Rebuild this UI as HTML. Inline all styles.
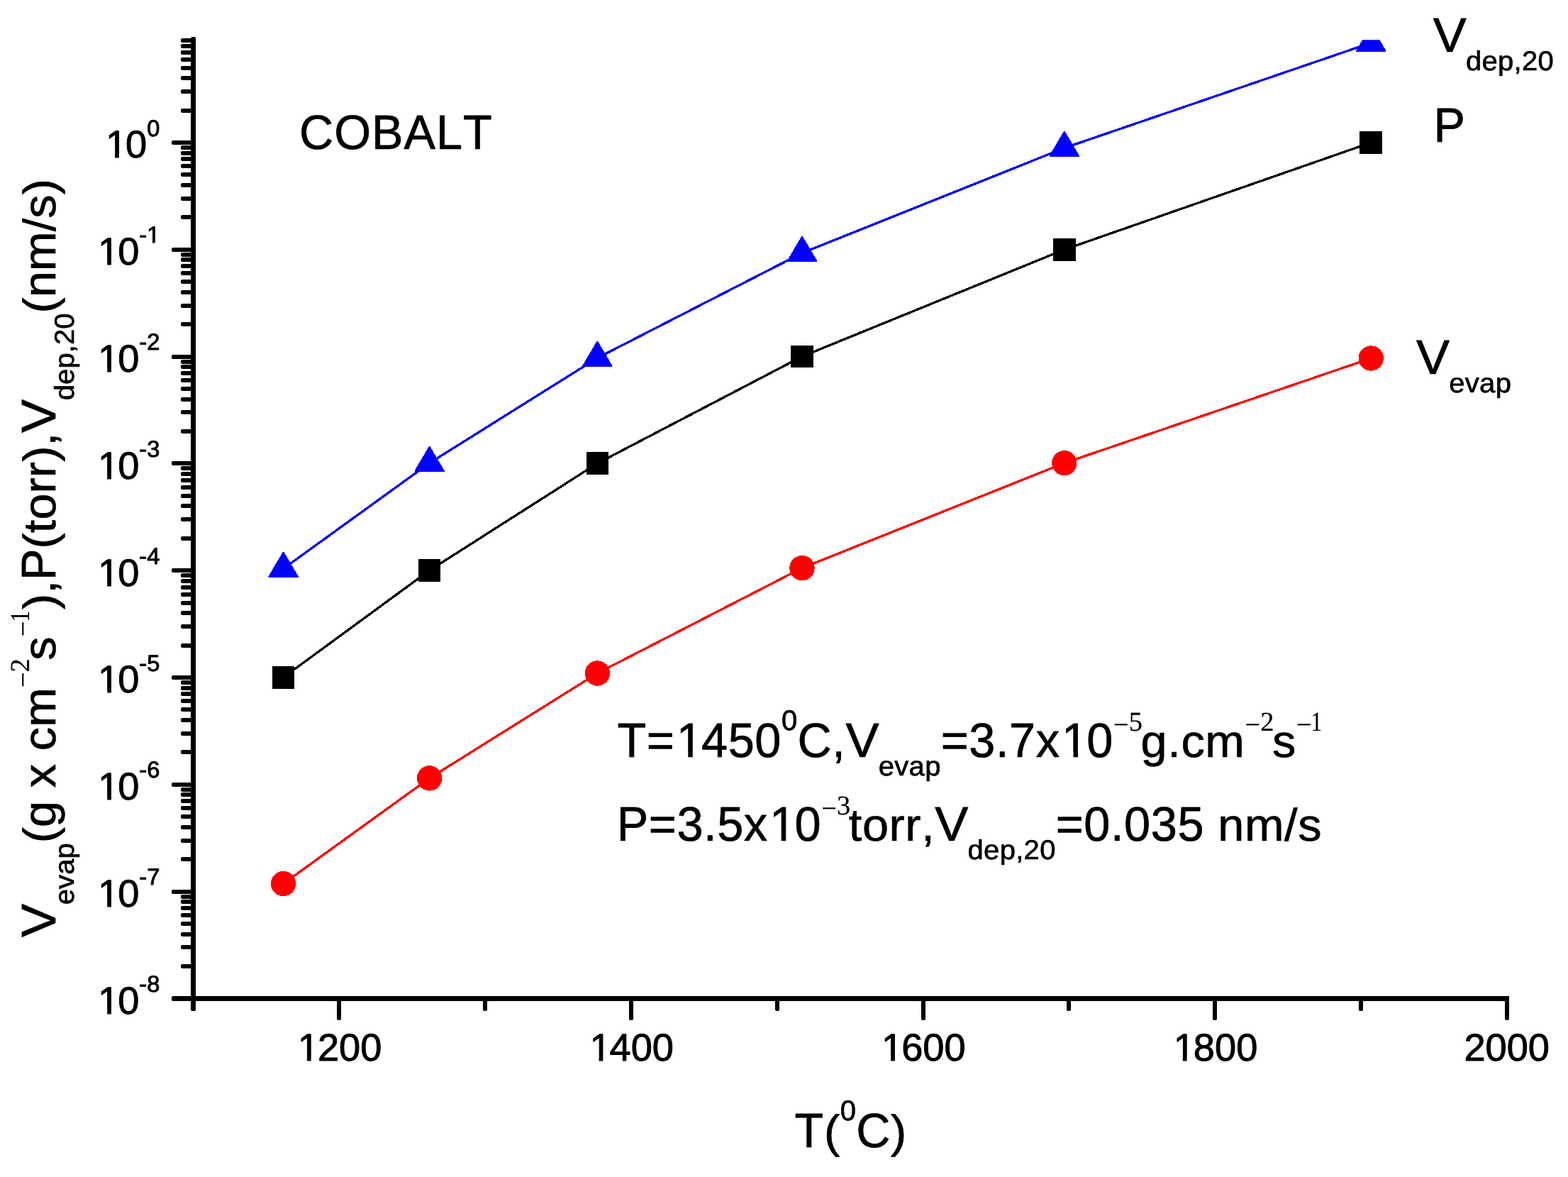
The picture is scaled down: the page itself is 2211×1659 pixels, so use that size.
<!DOCTYPE html>
<html lang="en"><head><meta charset="utf-8"><title>Cobalt: evaporation rate, vapour pressure and deposition rate vs temperature</title>
<style>
html,body{margin:0;padding:0;background:#fff;}
body{width:2211px;height:1659px;}
svg{display:block;}
text{font-family:"Liberation Sans",sans-serif;fill:#000;stroke:#000;stroke-width:0.70px;stroke-linejoin:round;font-kerning:none;font-variant-ligatures:none;text-rendering:geometricPrecision;white-space:pre;}
.tk text{stroke-width:0.95px;}
text.se{font-family:"Liberation Serif",serif;stroke-width:0.20px;}
</style></head><body>
<svg width="2211" height="1659" viewBox="0 0 2211 1659">
<rect x="0" y="0" width="2211" height="1659" fill="#fff"/>
<g id="axes" fill="#000" shape-rendering="crispEdges">
<rect x="269" y="53" width="7" height="1358"/>
<rect x="270" y="52" width="5" height="1"/>
<rect x="243" y="1404" width="1885" height="7"/>
<rect x="242" y="1405" width="1" height="5"/>
<rect x="243" y="198" width="29" height="6"/>
<rect x="242" y="199" width="1" height="4"/>
<rect x="256" y="153" width="16" height="6"/>
<rect x="255" y="154" width="1" height="4"/>
<rect x="256" y="126" width="16" height="6"/>
<rect x="255" y="127" width="1" height="4"/>
<rect x="256" y="107" width="16" height="6"/>
<rect x="255" y="108" width="1" height="4"/>
<rect x="256" y="93" width="16" height="6"/>
<rect x="255" y="94" width="1" height="4"/>
<rect x="256" y="81" width="16" height="6"/>
<rect x="255" y="82" width="1" height="4"/>
<rect x="256" y="71" width="16" height="6"/>
<rect x="255" y="72" width="1" height="4"/>
<rect x="256" y="62" width="16" height="6"/>
<rect x="255" y="63" width="1" height="4"/>
<rect x="256" y="54" width="16" height="6"/>
<rect x="255" y="55" width="1" height="4"/>
<rect x="243" y="349" width="29" height="6"/>
<rect x="242" y="350" width="1" height="4"/>
<rect x="256" y="303" width="16" height="6"/>
<rect x="255" y="304" width="1" height="4"/>
<rect x="256" y="277" width="16" height="6"/>
<rect x="255" y="278" width="1" height="4"/>
<rect x="256" y="258" width="16" height="6"/>
<rect x="255" y="259" width="1" height="4"/>
<rect x="256" y="243" width="16" height="6"/>
<rect x="255" y="244" width="1" height="4"/>
<rect x="256" y="231" width="16" height="6"/>
<rect x="255" y="232" width="1" height="4"/>
<rect x="256" y="221" width="16" height="6"/>
<rect x="255" y="222" width="1" height="4"/>
<rect x="256" y="213" width="16" height="6"/>
<rect x="255" y="214" width="1" height="4"/>
<rect x="256" y="205" width="16" height="6"/>
<rect x="255" y="206" width="1" height="4"/>
<rect x="243" y="500" width="29" height="6"/>
<rect x="242" y="501" width="1" height="4"/>
<rect x="256" y="454" width="16" height="6"/>
<rect x="255" y="455" width="1" height="4"/>
<rect x="256" y="428" width="16" height="6"/>
<rect x="255" y="429" width="1" height="4"/>
<rect x="256" y="409" width="16" height="6"/>
<rect x="255" y="410" width="1" height="4"/>
<rect x="256" y="394" width="16" height="6"/>
<rect x="255" y="395" width="1" height="4"/>
<rect x="256" y="382" width="16" height="6"/>
<rect x="255" y="383" width="1" height="4"/>
<rect x="256" y="372" width="16" height="6"/>
<rect x="255" y="373" width="1" height="4"/>
<rect x="256" y="363" width="16" height="6"/>
<rect x="255" y="364" width="1" height="4"/>
<rect x="256" y="356" width="16" height="6"/>
<rect x="255" y="357" width="1" height="4"/>
<rect x="243" y="650" width="29" height="6"/>
<rect x="242" y="651" width="1" height="4"/>
<rect x="256" y="605" width="16" height="6"/>
<rect x="255" y="606" width="1" height="4"/>
<rect x="256" y="578" width="16" height="6"/>
<rect x="255" y="579" width="1" height="4"/>
<rect x="256" y="560" width="16" height="6"/>
<rect x="255" y="561" width="1" height="4"/>
<rect x="256" y="545" width="16" height="6"/>
<rect x="255" y="546" width="1" height="4"/>
<rect x="256" y="533" width="16" height="6"/>
<rect x="255" y="534" width="1" height="4"/>
<rect x="256" y="523" width="16" height="6"/>
<rect x="255" y="524" width="1" height="4"/>
<rect x="256" y="514" width="16" height="6"/>
<rect x="255" y="515" width="1" height="4"/>
<rect x="256" y="507" width="16" height="6"/>
<rect x="255" y="508" width="1" height="4"/>
<rect x="243" y="801" width="29" height="6"/>
<rect x="242" y="802" width="1" height="4"/>
<rect x="256" y="756" width="16" height="6"/>
<rect x="255" y="757" width="1" height="4"/>
<rect x="256" y="729" width="16" height="6"/>
<rect x="255" y="730" width="1" height="4"/>
<rect x="256" y="710" width="16" height="6"/>
<rect x="255" y="711" width="1" height="4"/>
<rect x="256" y="696" width="16" height="6"/>
<rect x="255" y="697" width="1" height="4"/>
<rect x="256" y="684" width="16" height="6"/>
<rect x="255" y="685" width="1" height="4"/>
<rect x="256" y="674" width="16" height="6"/>
<rect x="255" y="675" width="1" height="4"/>
<rect x="256" y="665" width="16" height="6"/>
<rect x="255" y="666" width="1" height="4"/>
<rect x="256" y="657" width="16" height="6"/>
<rect x="255" y="658" width="1" height="4"/>
<rect x="243" y="952" width="29" height="6"/>
<rect x="242" y="953" width="1" height="4"/>
<rect x="256" y="907" width="16" height="6"/>
<rect x="255" y="908" width="1" height="4"/>
<rect x="256" y="880" width="16" height="6"/>
<rect x="255" y="881" width="1" height="4"/>
<rect x="256" y="861" width="16" height="6"/>
<rect x="255" y="862" width="1" height="4"/>
<rect x="256" y="847" width="16" height="6"/>
<rect x="255" y="848" width="1" height="4"/>
<rect x="256" y="835" width="16" height="6"/>
<rect x="255" y="836" width="1" height="4"/>
<rect x="256" y="825" width="16" height="6"/>
<rect x="255" y="826" width="1" height="4"/>
<rect x="256" y="816" width="16" height="6"/>
<rect x="255" y="817" width="1" height="4"/>
<rect x="256" y="808" width="16" height="6"/>
<rect x="255" y="809" width="1" height="4"/>
<rect x="243" y="1103" width="29" height="6"/>
<rect x="242" y="1104" width="1" height="4"/>
<rect x="256" y="1057" width="16" height="6"/>
<rect x="255" y="1058" width="1" height="4"/>
<rect x="256" y="1031" width="16" height="6"/>
<rect x="255" y="1032" width="1" height="4"/>
<rect x="256" y="1012" width="16" height="6"/>
<rect x="255" y="1013" width="1" height="4"/>
<rect x="256" y="997" width="16" height="6"/>
<rect x="255" y="998" width="1" height="4"/>
<rect x="256" y="985" width="16" height="6"/>
<rect x="255" y="986" width="1" height="4"/>
<rect x="256" y="975" width="16" height="6"/>
<rect x="255" y="976" width="1" height="4"/>
<rect x="256" y="967" width="16" height="6"/>
<rect x="255" y="968" width="1" height="4"/>
<rect x="256" y="959" width="16" height="6"/>
<rect x="255" y="960" width="1" height="4"/>
<rect x="243" y="1254" width="29" height="6"/>
<rect x="242" y="1255" width="1" height="4"/>
<rect x="256" y="1208" width="16" height="6"/>
<rect x="255" y="1209" width="1" height="4"/>
<rect x="256" y="1182" width="16" height="6"/>
<rect x="255" y="1183" width="1" height="4"/>
<rect x="256" y="1163" width="16" height="6"/>
<rect x="255" y="1164" width="1" height="4"/>
<rect x="256" y="1148" width="16" height="6"/>
<rect x="255" y="1149" width="1" height="4"/>
<rect x="256" y="1136" width="16" height="6"/>
<rect x="255" y="1137" width="1" height="4"/>
<rect x="256" y="1126" width="16" height="6"/>
<rect x="255" y="1127" width="1" height="4"/>
<rect x="256" y="1117" width="16" height="6"/>
<rect x="255" y="1118" width="1" height="4"/>
<rect x="256" y="1110" width="16" height="6"/>
<rect x="255" y="1111" width="1" height="4"/>
<rect x="256" y="1359" width="16" height="6"/>
<rect x="255" y="1360" width="1" height="4"/>
<rect x="256" y="1332" width="16" height="6"/>
<rect x="255" y="1333" width="1" height="4"/>
<rect x="256" y="1314" width="16" height="6"/>
<rect x="255" y="1315" width="1" height="4"/>
<rect x="256" y="1299" width="16" height="6"/>
<rect x="255" y="1300" width="1" height="4"/>
<rect x="256" y="1287" width="16" height="6"/>
<rect x="255" y="1288" width="1" height="4"/>
<rect x="256" y="1277" width="16" height="6"/>
<rect x="255" y="1278" width="1" height="4"/>
<rect x="256" y="1268" width="16" height="6"/>
<rect x="255" y="1269" width="1" height="4"/>
<rect x="256" y="1261" width="16" height="6"/>
<rect x="255" y="1262" width="1" height="4"/>
<rect x="269" y="1408" width="7" height="16"/>
<rect x="270" y="1424" width="5" height="1"/>
<rect x="475" y="1408" width="6" height="29"/>
<rect x="476" y="1437" width="4" height="1"/>
<rect x="681" y="1408" width="6" height="16"/>
<rect x="682" y="1424" width="4" height="1"/>
<rect x="887" y="1408" width="6" height="29"/>
<rect x="888" y="1437" width="4" height="1"/>
<rect x="1093" y="1408" width="6" height="16"/>
<rect x="1094" y="1424" width="4" height="1"/>
<rect x="1299" y="1408" width="6" height="29"/>
<rect x="1300" y="1437" width="4" height="1"/>
<rect x="1504" y="1408" width="6" height="16"/>
<rect x="1505" y="1424" width="4" height="1"/>
<rect x="1710" y="1408" width="6" height="29"/>
<rect x="1711" y="1437" width="4" height="1"/>
<rect x="1916" y="1408" width="6" height="16"/>
<rect x="1917" y="1424" width="4" height="1"/>
<rect x="2122" y="1408" width="6" height="29"/>
<rect x="2123" y="1437" width="4" height="1"/>
</g>
<defs><clipPath id="plot"><rect x="276" y="56.2" width="1900" height="1348"/></clipPath></defs>
<g id="series" clip-path="url(#plot)" shape-rendering="crispEdges">
<polyline points="399.6,954.8 605.6,804.0 842.3,653.2 1131.0,502.5 1500.8,351.8 1933.2,201.0" fill="none" stroke="#000" stroke-width="3.3"/>
<polyline points="399.6,1245.5 605.6,1096.9 842.3,949.0 1131.0,800.6 1500.8,652.7 1933.2,505.0" fill="none" stroke="#f00" stroke-width="3.3"/>
<polyline points="399.6,801.5 605.6,652.7 842.3,504.6 1131.0,356.6 1500.8,208.6 1933.2,60.4" fill="none" stroke="#00f" stroke-width="3.3"/>
<rect x="383.8" y="939.0" width="31.6" height="31.6" fill="#000"/>
<rect x="589.8" y="788.2" width="31.6" height="31.6" fill="#000"/>
<rect x="826.5" y="637.4" width="31.6" height="31.6" fill="#000"/>
<rect x="1115.2" y="486.7" width="31.6" height="31.6" fill="#000"/>
<rect x="1485.0" y="336.0" width="31.6" height="31.6" fill="#000"/>
<rect x="1917.4" y="185.2" width="31.6" height="31.6" fill="#000"/>
<circle cx="399.6" cy="1245.5" r="17.7" fill="#f00"/>
<circle cx="605.6" cy="1096.9" r="17.7" fill="#f00"/>
<circle cx="842.3" cy="949.0" r="17.7" fill="#f00"/>
<circle cx="1131.0" cy="800.6" r="17.7" fill="#f00"/>
<circle cx="1500.8" cy="652.7" r="17.7" fill="#f00"/>
<circle cx="1933.2" cy="505.0" r="17.7" fill="#f00"/>
<polygon points="379.4,812.8 419.8,812.8 399.6,778.6" fill="#00f" stroke="#00f" stroke-width="2" stroke-linejoin="round"/>
<polygon points="585.4,664.0 625.8,664.0 605.6,629.8" fill="#00f" stroke="#00f" stroke-width="2" stroke-linejoin="round"/>
<polygon points="822.1,515.9 862.5,515.9 842.3,481.7" fill="#00f" stroke="#00f" stroke-width="2" stroke-linejoin="round"/>
<polygon points="1110.8,367.9 1151.2,367.9 1131.0,333.7" fill="#00f" stroke="#00f" stroke-width="2" stroke-linejoin="round"/>
<polygon points="1480.6,219.9 1521.0,219.9 1500.8,185.7" fill="#00f" stroke="#00f" stroke-width="2" stroke-linejoin="round"/>
<polygon points="1913.0,71.7 1953.4,71.7 1933.2,37.5" fill="#00f" stroke="#00f" stroke-width="2" stroke-linejoin="round"/>
</g>
<g id="ytick-labels" class="tk">
<text transform="translate(146.88,222.30)" font-size="54.20"><tspan dx="2.00">1</tspan><tspan dx="-2.00">0</tspan></text>
<text transform="translate(207.17,191.60)" font-size="32.60">0</text>
<text transform="translate(136.03,373.10)" font-size="54.20"><tspan dx="2.00">1</tspan><tspan dx="-2.00">0</tspan></text>
<text transform="translate(196.31,342.40)" font-size="32.60">-<tspan dx="0.00">1</tspan></text>
<text transform="translate(136.03,523.90)" font-size="54.20"><tspan dx="2.00">1</tspan><tspan dx="-2.00">0</tspan></text>
<text transform="translate(196.31,493.20)" font-size="32.60">-2</text>
<text transform="translate(136.03,674.70)" font-size="54.20"><tspan dx="2.00">1</tspan><tspan dx="-2.00">0</tspan></text>
<text transform="translate(196.31,644.00)" font-size="32.60">-3</text>
<text transform="translate(136.03,825.50)" font-size="54.20"><tspan dx="2.00">1</tspan><tspan dx="-2.00">0</tspan></text>
<text transform="translate(196.31,794.80)" font-size="32.60">-4</text>
<text transform="translate(136.03,976.30)" font-size="54.20"><tspan dx="2.00">1</tspan><tspan dx="-2.00">0</tspan></text>
<text transform="translate(196.31,945.60)" font-size="32.60">-5</text>
<text transform="translate(136.03,1127.10)" font-size="54.20"><tspan dx="2.00">1</tspan><tspan dx="-2.00">0</tspan></text>
<text transform="translate(196.31,1096.40)" font-size="32.60">-6</text>
<text transform="translate(136.03,1277.90)" font-size="54.20"><tspan dx="2.00">1</tspan><tspan dx="-2.00">0</tspan></text>
<text transform="translate(196.31,1247.20)" font-size="32.60">-7</text>
<text transform="translate(136.03,1428.70)" font-size="54.20"><tspan dx="2.00">1</tspan><tspan dx="-2.00">0</tspan></text>
<text transform="translate(196.31,1398.00)" font-size="32.60">-8</text>
<g fill="#fff" stroke="none">
<rect x="151.00" y="217" width="11.04" height="7"/>
<rect x="167.77" y="217" width="10.23" height="7"/>
<rect x="140.00" y="367" width="11.18" height="8"/>
<rect x="156.92" y="367" width="10.08" height="8"/>
<rect x="208.00" y="338" width="6.89" height="6"/>
<rect x="218.72" y="338" width="7.28" height="6"/>
<rect x="140.00" y="518" width="11.18" height="7"/>
<rect x="156.92" y="518" width="10.08" height="7"/>
<rect x="140.00" y="669" width="11.18" height="7"/>
<rect x="156.92" y="669" width="10.08" height="7"/>
<rect x="140.00" y="820" width="11.18" height="7"/>
<rect x="156.92" y="820" width="10.08" height="7"/>
<rect x="140.00" y="971" width="11.18" height="7"/>
<rect x="156.92" y="971" width="10.08" height="7"/>
<rect x="140.00" y="1121" width="11.18" height="8"/>
<rect x="156.92" y="1121" width="10.08" height="8"/>
<rect x="140.00" y="1272" width="11.18" height="7"/>
<rect x="156.92" y="1272" width="10.08" height="7"/>
<rect x="140.00" y="1423" width="11.18" height="7"/>
<rect x="156.92" y="1423" width="10.08" height="7"/>
</g>
</g>
<g id="xtick-labels" class="tk">
<text transform="translate(417.74,1495.40)" font-size="54.20"><tspan dx="2.00">1</tspan><tspan dx="-2.00">200</tspan></text>
<text transform="translate(829.40,1495.40)" font-size="54.20"><tspan dx="2.00">1</tspan><tspan dx="-2.00">400</tspan></text>
<text transform="translate(1241.06,1495.40)" font-size="54.20"><tspan dx="2.00">1</tspan><tspan dx="-2.00">600</tspan></text>
<text transform="translate(1652.72,1495.40)" font-size="54.20"><tspan dx="2.00">1</tspan><tspan dx="-2.00">800</tspan></text>
<text transform="translate(2064.38,1495.40)" font-size="54.20">2000</text>
<g fill="#fff" stroke="none">
<rect x="422.00" y="1490" width="10.90" height="7"/>
<rect x="438.64" y="1490" width="10.36" height="7"/>
<rect x="834.00" y="1490" width="10.56" height="7"/>
<rect x="850.30" y="1490" width="10.70" height="7"/>
<rect x="1245.00" y="1490" width="11.22" height="7"/>
<rect x="1261.96" y="1490" width="11.04" height="7"/>
<rect x="1657.00" y="1490" width="10.88" height="7"/>
<rect x="1673.62" y="1490" width="10.38" height="7"/>
</g>
</g>
<g id="labels">
<text transform="translate(422.00,209.60) scale(1.000,1.025)" font-size="66.67" letter-spacing="1.00">COBALT</text>
<text transform="translate(2020.70,72.70) scale(1.060,1.025)" font-size="66.67" letter-spacing="0.60">V</text>
<text transform="translate(2066.97,98.90) scale(1.000,0.965)" font-size="40.00" letter-spacing="0.30">dep,20</text>
<text transform="translate(2021.50,199.90) scale(1.000,1.025)" font-size="66.67">P</text>
<text transform="translate(1997.00,527.20) scale(1.060,1.025)" font-size="66.67" letter-spacing="0.60">V</text>
<text transform="translate(2043.27,553.40) scale(1.000,0.965)" font-size="40.00" letter-spacing="0.30">evap</text>
</g>
<g id="annotation">
<text transform="translate(870.50,1067.00) scale(1.000,1.025)" font-size="66.67" letter-spacing="0.60">T=<tspan dx="2.46">1</tspan><tspan dx="-2.46">450</tspan></text>
<text transform="translate(1102.07,1028.80)" font-size="40.00" letter-spacing="0.30">0</text>
<text transform="translate(1124.62,1067.00) scale(1.000,1.025)" font-size="66.67" letter-spacing="0.60">C,</text>
<text transform="translate(1192.49,1067.00) scale(1.060,1.025)" font-size="66.67" letter-spacing="0.60">V</text>
<text transform="translate(1238.76,1093.20) scale(1.000,0.965)" font-size="40.00" letter-spacing="0.30">evap</text>
<text transform="translate(1326.70,1067.00) scale(1.000,1.025)" font-size="66.67" letter-spacing="0.60">=3.7x<tspan dx="2.46">1</tspan><tspan dx="-2.46">0</tspan></text>
<text transform="translate(1570.00,1029.80)" font-size="38.50" class="se"><tspan dy="4.0">−</tspan><tspan dy="-4.0">5</tspan></text>
<text transform="translate(1608.60,1067.00) scale(1.000,0.965)" font-size="66.67" letter-spacing="0.60">g.cm</text>
<text transform="translate(1755.48,1029.80)" font-size="38.50" class="se"><tspan dy="4.0">−</tspan><tspan dy="-4.0">2</tspan></text>
<text transform="translate(1794.08,1067.00) scale(1.000,0.965)" font-size="66.67" letter-spacing="0.60">s</text>
<text transform="translate(1828.01,1029.80)" font-size="38.50" class="se"><tspan dy="4.0">−</tspan><tspan dy="-4.0" dx="-1.0" textLength="15.40" lengthAdjust="spacingAndGlyphs">1</tspan></text>
<text transform="translate(869.80,1185.20) scale(1.000,1.025)" font-size="66.67" letter-spacing="0.60">P=3.5x<tspan dx="2.46">1</tspan><tspan dx="-2.46">0</tspan></text>
<text transform="translate(1158.18,1148.00)" font-size="38.50" class="se"><tspan dy="4.0">−</tspan><tspan dy="-4.0">3</tspan></text>
<text transform="translate(1196.78,1185.20) scale(1.000,0.965)" font-size="66.67" letter-spacing="0.60">torr,</text>
<text transform="translate(1318.30,1185.20) scale(1.060,1.025)" font-size="66.67" letter-spacing="0.60">V</text>
<text transform="translate(1364.57,1211.40) scale(1.000,0.965)" font-size="40.00" letter-spacing="0.30">dep,20</text>
<text transform="translate(1488.72,1185.20) scale(1.000,1.025)" font-size="66.67" letter-spacing="0.60">=0.035 </text>
<text transform="translate(1717.21,1185.20) scale(1.000,0.965)" font-size="66.67" letter-spacing="0.60">nm/s</text>
<g fill="#fff" stroke="none">
<rect x="957.00" y="1060" width="13.24" height="8"/>
<rect x="976.82" y="1060" width="12.18" height="8"/>
<rect x="1500.00" y="1060" width="13.52" height="8"/>
<rect x="1520.11" y="1060" width="12.89" height="8"/>
<rect x="1089.00" y="1179" width="12.70" height="8"/>
<rect x="1108.28" y="1179" width="12.72" height="8"/>
</g>
</g>
<g id="xtitle">
<text transform="translate(1120.60,1616.90) scale(1.000,1.025)" font-size="66.67" letter-spacing="0.60">T</text>
<text transform="translate(1161.92,1616.90) scale(1.000,0.965)" font-size="66.67" letter-spacing="0.60">(</text>
<text transform="translate(1184.73,1578.70)" font-size="40.00" letter-spacing="0.30">0</text>
<text transform="translate(1207.27,1616.90) scale(1.000,1.025)" font-size="66.67" letter-spacing="0.60">C</text>
<text transform="translate(1256.02,1616.90) scale(1.000,0.965)" font-size="66.67" letter-spacing="0.60">)</text>
</g>
<g id="ytitle" transform="translate(78.0,1321.0) rotate(-90)">
<text transform="translate(0.00,0.00) scale(1.060,1.025)" font-size="66.67" letter-spacing="0.08">V</text>
<text transform="translate(45.75,26.20) scale(1.000,0.965)" font-size="40.00" letter-spacing="0.08">evap</text>
<text transform="translate(132.81,0.00) scale(1.000,0.965)" font-size="66.67" letter-spacing="0.08">(g x cm</text>
<text transform="translate(351.90,-37.20)" font-size="38.50" class="se"><tspan dy="4.0">−</tspan><tspan dy="-4.0">2</tspan></text>
<text transform="translate(390.30,0.00) scale(1.000,0.965)" font-size="66.67" letter-spacing="0.08">s</text>
<text transform="translate(423.71,-37.20)" font-size="38.50" class="se"><tspan dy="4.0">−</tspan><tspan dy="-4.0" dx="-1.0" textLength="15.40" lengthAdjust="spacingAndGlyphs">1</tspan></text>
<text transform="translate(462.11,0.00) scale(1.000,0.965)" font-size="66.67" letter-spacing="0.08">),</text>
<text transform="translate(503.00,0.00) scale(1.000,1.025)" font-size="66.67" letter-spacing="0.08">P</text>
<text transform="translate(547.55,0.00) scale(1.000,0.965)" font-size="66.67" letter-spacing="0.08">(torr),</text>
<text transform="translate(711.04,0.00) scale(1.060,1.025)" font-size="66.67" letter-spacing="0.08">V</text>
<text transform="translate(756.79,26.20) scale(1.000,0.965)" font-size="40.00" letter-spacing="0.08">dep,20</text>
<text transform="translate(879.61,0.00) scale(1.000,0.965)" font-size="66.67" letter-spacing="0.08">(nm/s)</text>
</g>
</svg>
</body></html>
